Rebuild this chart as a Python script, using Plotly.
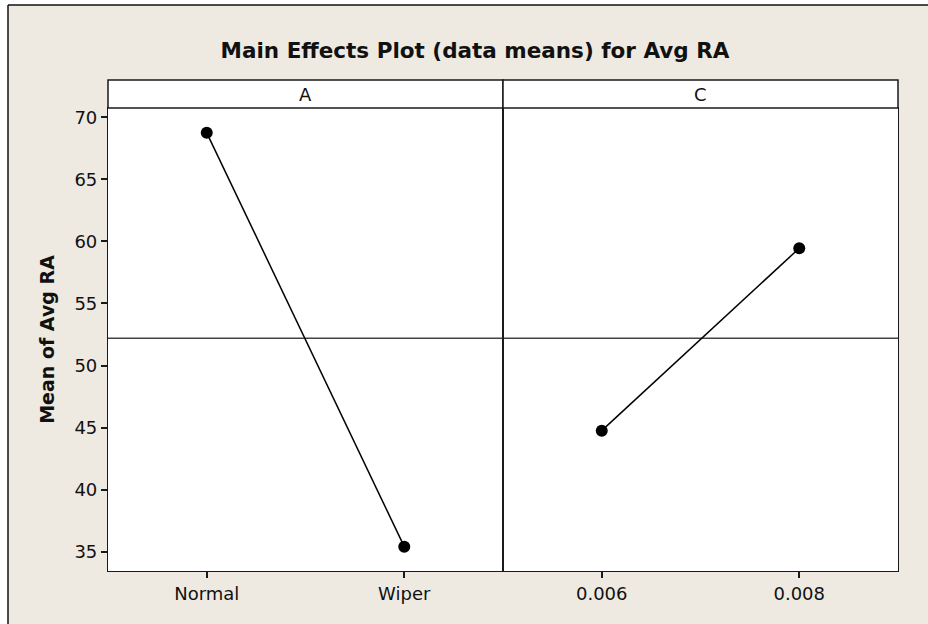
import plotly.graph_objects as go

# ---- data ----
title_text = "Main Effects Plot (data means) for Avg RA"
y_title = "Mean of Avg RA"
panel_names = ["A", "C"]
a_levels = ["Normal", "Wiper"]
a_means = [68.75, 35.4]
c_levels = ["0.006", "0.008"]
c_means = [44.75, 59.45]
grand_mean = 52.2
y_ticks = [35, 40, 45, 50, 55, 60, 65, 70]

W, H = 928, 624
BEIGE = "#EEEAE1"
FONT = "DejaVu Sans"

def px_x(x):
    return x / W

def px_y(y):
    return 1 - y / H

x1a, x1b, x2b = 108, 503, 898
strip_top, plot_top, plot_bot = 80, 108, 571

fig = go.Figure()

for i, (levels, means) in enumerate([(a_levels, a_means), (c_levels, c_means)]):
    fig.add_trace(go.Scatter(
        x=levels, y=means, xaxis="x" if i == 0 else "x2", yaxis="y" if i == 0 else "y2",
        mode="lines+markers",
        line=dict(color="black", width=1.5),
        marker=dict(color="black", size=12),
        showlegend=False, hoverinfo="skip", cliponaxis=False,
    ))

yrange = [33.44, 70.75]
common_x = dict(range=[-0.5, 1.5], showline=True, mirror=True, linecolor="#1a1a1a",
                linewidth=1.2, ticks="outside", ticklen=6, tickwidth=1.5, tickcolor="#1a1a1a",
                showgrid=False, zeroline=False, type="category",
                tickfont=dict(family=FONT, size=18, color="#111"))
fig.update_layout(
    width=W, height=H,
    margin=dict(l=0, r=0, t=0, b=0),
    paper_bgcolor=BEIGE, plot_bgcolor="white",
    xaxis=dict(domain=[px_x(x1a), px_x(x1b)], anchor="y", **common_x),
    xaxis2=dict(domain=[px_x(x1b), px_x(x2b)], anchor="y2", **common_x),
    yaxis=dict(domain=[px_y(plot_bot), px_y(plot_top)], range=yrange, tickvals=y_ticks,
               showline=True, mirror=True, linecolor="#1a1a1a", linewidth=1.2,
               ticks="outside", ticklen=6, tickwidth=1.5, tickcolor="#1a1a1a",
               showgrid=False, zeroline=False,
               tickfont=dict(family=FONT, size=18, color="#111"),
               title=dict(text="<b>" + y_title + "</b>", font=dict(family=FONT, size=19, color="#111"),
                          standoff=14)),
    yaxis2=dict(domain=[px_y(plot_bot), px_y(plot_top)], range=yrange, anchor="x2",
                showline=True, mirror=True, linecolor="#1a1a1a", linewidth=1.2,
                showticklabels=False, ticks="", showgrid=False, zeroline=False),
    title=dict(text="<b>" + title_text + "</b>", x=475 / W, xanchor="center",
               y=px_y(50), yanchor="middle", font=dict(family=FONT, size=21.5, color="#111")),
)

shapes = []
shapes.append(dict(type="rect", xref="paper", yref="paper", x0=0, x1=1.01, y0=px_y(5), y1=1.01,
                   fillcolor="white", line=dict(width=0), layer="below"))
shapes.append(dict(type="rect", xref="paper", yref="paper", x0=-0.01, x1=px_x(8), y0=-0.01, y1=1.01,
                   fillcolor="white", line=dict(width=0), layer="below"))
shapes.append(dict(type="line", xref="paper", yref="paper", x0=px_x(8), x1=1.01, y0=px_y(5), y1=px_y(5),
                   line=dict(color="#111", width=1.5)))
shapes.append(dict(type="line", xref="paper", yref="paper", x0=px_x(8), x1=px_x(8), y0=px_y(5), y1=-0.01,
                   line=dict(color="#111", width=1.5)))
for xa, xb in [(x1a, x1b), (x1b, x2b)]:
    shapes.append(dict(type="rect", xref="paper", yref="paper", x0=px_x(xa), x1=px_x(xb),
                       y0=px_y(plot_top), y1=px_y(strip_top), fillcolor="white",
                       line=dict(color="#1a1a1a", width=1.5)))
for xr, yr in [("x domain", "y"), ("x2 domain", "y2")]:
    shapes.append(dict(type="line", xref=xr, yref=yr, x0=0, x1=1, y0=grand_mean, y1=grand_mean,
                       line=dict(color="#444", width=1.5), layer="below"))
fig.update_layout(shapes=shapes)

annotations = []
for name, (xa, xb) in zip(panel_names, [(x1a, x1b), (x1b, x2b)]):
    annotations.append(dict(text=name, xref="paper", yref="paper", x=px_x((xa + xb) / 2),
                            y=px_y((strip_top + plot_top) / 2), showarrow=False,
                            xanchor="center", yanchor="middle",
                            font=dict(family=FONT, size=18, color="#111")))
fig.update_layout(annotations=annotations)

fig.write_html("out.html", config={"displayModeBar": False},
               post_script="document.body.style.margin='0';document.body.style.overflow='hidden';")
